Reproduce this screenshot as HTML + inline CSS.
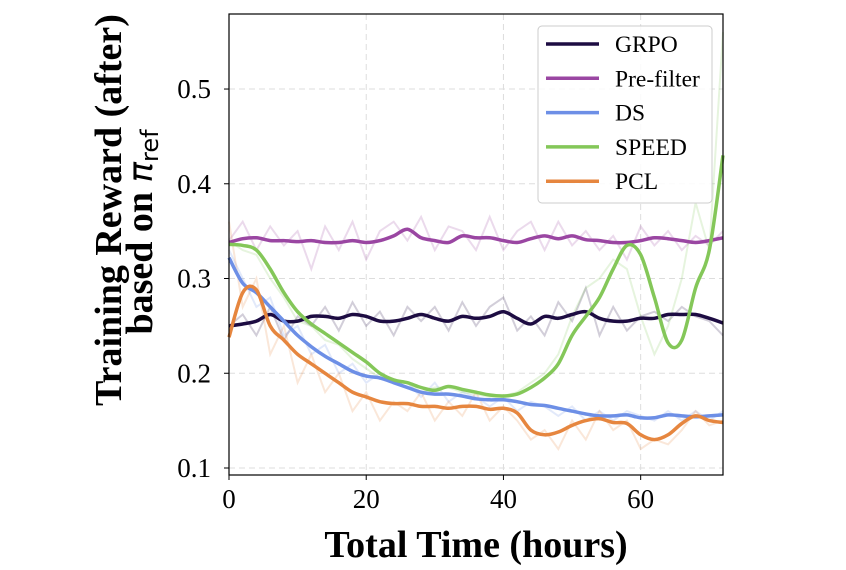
<!DOCTYPE html>
<html><head><meta charset="utf-8"><style>
body{margin:0;background:#fff;}
svg{display:block;font-family:"Liberation Serif",serif;}
</style></head><body>
<svg id="chart" width="846" height="570">
<g id="grid"></g>
<g id="series"></g>
<rect x="229" y="14" width="494" height="461" fill="none" stroke="#000" stroke-width="1.2"/>
<g id="ticks"></g>
<text x="476" y="557" text-anchor="middle" font-size="38" font-weight="bold">Total Time (hours)</text>
<text transform="translate(121,210) rotate(-90)" text-anchor="middle" font-size="38" font-weight="bold">Training Reward (after)</text>
<text transform="translate(152,232) rotate(-90)" text-anchor="middle" font-size="38" font-weight="bold">based on <tspan font-style="italic" font-weight="normal" font-family="'DejaVu Sans',sans-serif" font-size="34">π</tspan><tspan font-family="'DejaVu Sans',sans-serif" font-weight="normal" font-size="24" dy="6">ref</tspan></text>
<g id="legend">
<rect x="538" y="26" width="174" height="177" rx="4" fill="#fff" fill-opacity="0.85" stroke="#ccc"/>
</g>
</svg>
<script>
const xs=[0,2,4,6,8,10,12,14,16,18,20,22,24,26,28,30,32,34,36,38,40,42,44,46,48,50,52,54,56,58,60,62,64,66,68,70,72];
const names=["GRPO","Pre-filter","DS","SPEED","PCL"];
const colors=["#1d0c42","#9a46a2","#6d8fe6","#84c759","#e6863f"];
const grpo=[0.25,0.252,0.255,0.262,0.255,0.255,0.26,0.26,0.258,0.262,0.26,0.255,0.255,0.258,0.262,0.258,0.255,0.26,0.258,0.26,0.265,0.258,0.252,0.26,0.258,0.262,0.265,0.258,0.255,0.255,0.258,0.258,0.262,0.262,0.262,0.258,0.253];
const prefilter=[0.338,0.342,0.343,0.34,0.34,0.339,0.34,0.338,0.338,0.34,0.338,0.34,0.345,0.352,0.343,0.34,0.338,0.345,0.343,0.343,0.34,0.338,0.342,0.345,0.342,0.345,0.341,0.34,0.338,0.338,0.34,0.343,0.342,0.34,0.338,0.34,0.343];
const ds=[0.322,0.295,0.285,0.27,0.255,0.24,0.228,0.218,0.21,0.202,0.197,0.195,0.19,0.185,0.18,0.178,0.178,0.176,0.173,0.172,0.172,0.17,0.167,0.166,0.163,0.16,0.157,0.155,0.155,0.156,0.153,0.153,0.156,0.155,0.154,0.155,0.156];
const speed=[0.336,0.335,0.33,0.31,0.285,0.265,0.252,0.242,0.232,0.222,0.212,0.2,0.193,0.19,0.185,0.182,0.186,0.183,0.18,0.177,0.176,0.178,0.185,0.195,0.21,0.24,0.26,0.28,0.31,0.335,0.325,0.28,0.232,0.235,0.29,0.33,0.43];
const pcl=[0.238,0.285,0.288,0.25,0.235,0.22,0.21,0.2,0.19,0.18,0.175,0.17,0.168,0.168,0.165,0.165,0.163,0.165,0.165,0.162,0.163,0.158,0.14,0.135,0.138,0.145,0.15,0.152,0.148,0.147,0.135,0.13,0.135,0.147,0.155,0.15,0.148];
const grpoRaw=[0.25,0.262,0.24,0.27,0.235,0.26,0.25,0.27,0.245,0.275,0.25,0.265,0.24,0.27,0.255,0.27,0.245,0.275,0.25,0.27,0.28,0.245,0.26,0.24,0.275,0.255,0.29,0.24,0.27,0.245,0.26,0.265,0.255,0.27,0.26,0.255,0.24];
const prefilterRaw=[0.34,0.36,0.33,0.355,0.335,0.35,0.31,0.355,0.33,0.36,0.32,0.35,0.36,0.34,0.365,0.33,0.355,0.35,0.33,0.365,0.33,0.35,0.36,0.33,0.36,0.335,0.35,0.33,0.345,0.32,0.355,0.335,0.35,0.33,0.345,0.335,0.35];
const dsRaw=[0.33,0.3,0.27,0.28,0.24,0.25,0.22,0.23,0.2,0.21,0.19,0.2,0.19,0.19,0.175,0.19,0.17,0.18,0.175,0.165,0.175,0.16,0.17,0.165,0.155,0.165,0.15,0.16,0.15,0.16,0.155,0.15,0.16,0.15,0.16,0.15,0.16];
const speedRaw=[0.34,0.33,0.325,0.3,0.28,0.255,0.25,0.235,0.23,0.215,0.205,0.195,0.19,0.19,0.18,0.185,0.185,0.18,0.178,0.175,0.176,0.18,0.19,0.2,0.22,0.26,0.29,0.3,0.32,0.31,0.26,0.22,0.25,0.3,0.38,0.33,0.56];
const pclRaw=[0.36,0.27,0.3,0.22,0.25,0.19,0.22,0.18,0.2,0.16,0.18,0.15,0.17,0.16,0.18,0.15,0.17,0.155,0.18,0.15,0.165,0.15,0.13,0.14,0.12,0.15,0.13,0.16,0.14,0.15,0.12,0.13,0.125,0.14,0.16,0.145,0.15];
const smooth=[grpo,prefilter,ds,speed,pcl];
const raw=[grpoRaw,prefilterRaw,dsRaw,speedRaw,pclRaw];
const xTicks=[0,20,40,60];
const yTicks=[0.1,0.2,0.3,0.4,0.5];

const X0=229,X1=723,Y0=475,Y1=14,XMIN=0,XMAX=72,YMIN=0.0926,YMAX=0.5792;
const sx=v=>X0+(v-XMIN)/(XMAX-XMIN)*(X1-X0);
const sy=v=>Y0-(v-YMIN)/(YMAX-YMIN)*(Y0-Y1);
const NS="http://www.w3.org/2000/svg";
function mk(t,a,p){const e=document.createElementNS(NS,t);for(const k in a)e.setAttribute(k,a[k]);p.appendChild(e);return e;}
const grid=document.getElementById('grid'),ticks=document.getElementById('ticks'),ser=document.getElementById('series'),leg=document.getElementById('legend');
xTicks.forEach(t=>{
 const g=mk('line',{x1:sx(t),x2:sx(t),y1:Y1,y2:Y0,stroke:'#ddd','stroke-dasharray':'6,4','stroke-width':1},grid);
 
 
 const l=mk('line',{x1:sx(t),x2:sx(t),y1:Y0,y2:Y0+5,stroke:'#000'},ticks);
 
 
 const tx=mk('text',{x:sx(t),y:508,'text-anchor':'middle','font-size':27},ticks);tx.textContent=t;
 
 
});
yTicks.forEach(t=>{
 const g=mk('line',{x1:X0,x2:X1,y1:sy(t),y2:sy(t),stroke:'#ddd','stroke-dasharray':'6,4','stroke-width':1},grid);
 
 
 const l=mk('line',{x1:X0-5,x2:X0,y1:sy(t),y2:sy(t),stroke:'#000'},ticks);
 
 
 const tx=mk('text',{x:211,y:sy(t)+9,'text-anchor':'end','font-size':27},ticks);tx.textContent=t.toFixed(1);
 
 
});
const pts=a=>a.map((v,i)=>sx(xs[i]).toFixed(1)+','+sy(v).toFixed(1)).join(' ');
function curve(a){
 const P=a.map((v,i)=>[sx(xs[i]),sy(v)]);
 let d='M'+P[0][0].toFixed(1)+','+P[0][1].toFixed(1);
 for(let i=0;i<P.length-1;i++){
  const p0=P[Math.max(0,i-1)],p1=P[i],p2=P[i+1],p3=P[Math.min(P.length-1,i+2)];
  const c1=[p1[0]+(p2[0]-p0[0])/6,p1[1]+(p2[1]-p0[1])/6];
  const c2=[p2[0]-(p3[0]-p1[0])/6,p2[1]-(p3[1]-p1[1])/6];
  d+=' C'+c1.map(n=>n.toFixed(1)).join(',')+' '+c2.map(n=>n.toFixed(1)).join(',')+' '+p2[0].toFixed(1)+','+p2[1].toFixed(1);
 }
 return d;
}
raw.forEach((a,k)=>{
 const p=mk('polyline',{points:pts(a),fill:'none',stroke:colors[k],'stroke-width':2,'stroke-opacity':0.2},ser);
 
 
});
smooth.forEach((a,k)=>{
 const p=mk('path',{d:curve(a),fill:'none',stroke:colors[k],'stroke-width':3.5,'stroke-linejoin':'round'},ser);
 
 
});
names.forEach((n,k)=>{
 const y=44+k*34.3;
 const l=mk('line',{x1:546,x2:599,y1:y,y2:y,stroke:colors[k],'stroke-width':3.5},leg);
 
 
 const t=mk('text',{x:615,y:y+8,'font-size':23.5},leg);t.textContent=n;
 
 
});
</script>
</body></html>
